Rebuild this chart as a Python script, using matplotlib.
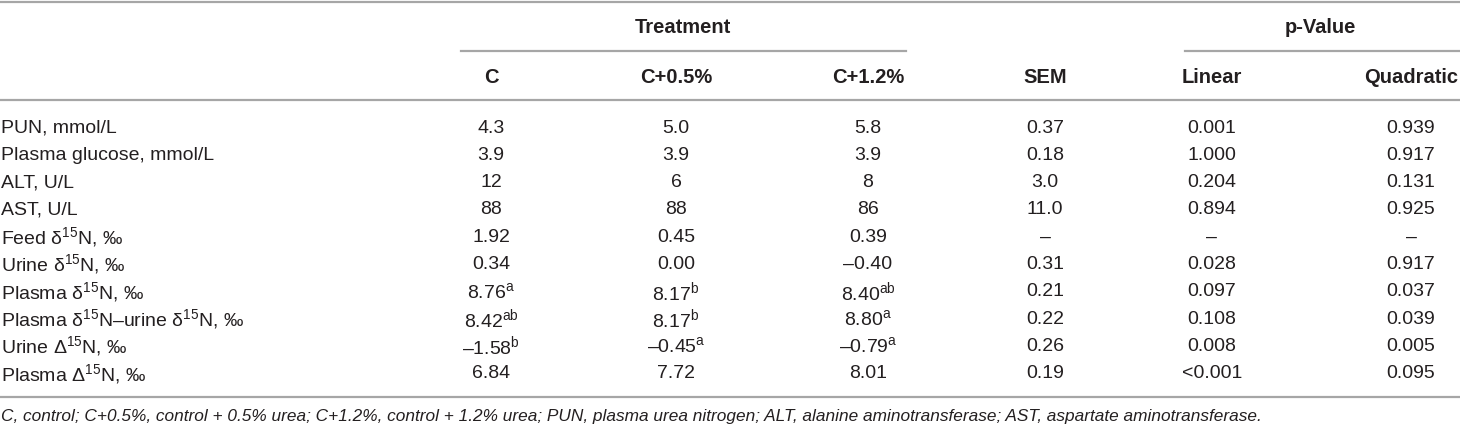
import matplotlib.pyplot as plt

plt.rcParams['font.family'] = ['Liberation Sans', 'DejaVu Sans']
plt.rcParams['mathtext.fontset'] = 'custom'
plt.rcParams['mathtext.rm'] = 'Liberation Sans'
plt.rcParams['mathtext.it'] = 'Liberation Sans:italic'
plt.rcParams['mathtext.bf'] = 'Liberation Sans:bold'

# table content
columns = ['C', 'C+0.5%', 'C+1.2%', 'SEM', 'Linear', 'Quadratic']
row_labels = ['PUN, mmol/L', 'Plasma glucose, mmol/L', 'ALT, U/L', 'AST, U/L',
              'Feed δ$^{15}$N, ‰', 'Urine δ$^{15}$N, ‰', 'Plasma δ$^{15}$N, ‰',
              'Plasma δ$^{15}$N–urine δ$^{15}$N, ‰', 'Urine Δ$^{15}$N, ‰',
              'Plasma Δ$^{15}$N, ‰']
col_c = ['4.3', '3.9', '12', '88', '1.92', '0.34', r'8.76$^{\mathrm{a}}$',
         r'8.42$^{\mathrm{ab}}$', r'–1.58$^{\mathrm{b}}$', '6.84']
col_c05 = ['5.0', '3.9', '6', '88', '0.45', '0.00', r'8.17$^{\mathrm{b}}$',
           r'8.17$^{\mathrm{b}}$', r'–0.45$^{\mathrm{a}}$', '7.72']
col_c12 = ['5.8', '3.9', '8', '86', '0.39', '–0.40', r'8.40$^{\mathrm{ab}}$',
           r'8.80$^{\mathrm{a}}$', r'–0.79$^{\mathrm{a}}$', '8.01']
sem = ['0.37', '0.18', '3.0', '11.0', '–', '0.31', '0.21', '0.22', '0.26', '0.19']
p_linear = ['0.001', '1.000', '0.204', '0.894', '–', '0.028', '0.097', '0.108',
            '0.008', '<0.001']
p_quad = ['0.939', '0.917', '0.131', '0.925', '–', '0.917', '0.037', '0.039',
          '0.005', '0.095']
footnote = ('C, control; C+0.5%, control + 0.5% urea; C+1.2%, control + 1.2% urea; '
            'PUN, plasma urea nitrogen; ALT, alanine aminotransferase; '
            'AST, aspartate aminotransferase.')

W, H = 1460, 428
fig = plt.figure(figsize=(W / 100, H / 100), dpi=100)
ax = fig.add_axes([0, 0, 1, 1])
ax.set_xlim(0, W)
ax.set_ylim(H, 0)
ax.axis('off')

txt = '#231f20'
line_col = '#a6a6a6'
fs = 14
fs_head = 14.5

col_x = [491, 676, 868, 1045, 1212, 1411]
data = [col_c, col_c05, col_c12, sem, p_linear, p_quad]

# rules
ax.plot([0, W], [2, 2], color=line_col, lw=1.6)
ax.plot([461, 906], [51, 51], color=line_col, lw=1.6)
ax.plot([1185, W], [51, 51], color=line_col, lw=1.6)
ax.plot([0, W], [100, 100], color=line_col, lw=1.6)
ax.plot([0, W], [397, 397], color=line_col, lw=1.6)

# headers
ax.text(683, 27, 'Treatment', ha='center', va='center', fontsize=fs_head,
        fontweight='bold', color=txt)
ax.text(1320, 27, 'p-Value', ha='center', va='center', fontsize=fs_head,
        fontweight='bold', color=txt)
for x, name in zip(col_x, columns):
    ax.text(x, 77, name, ha='center', va='center', fontsize=fs_head,
            fontweight='bold', color=txt)

# body
y0, dy = 128, 27.3
for i, label in enumerate(row_labels):
    y = y0 + i * dy
    ax.text(1, y, label, ha='left', va='center', fontsize=fs, color=txt)
    for x, col in zip(col_x, data):
        ax.text(x, y, col[i], ha='center', va='center', fontsize=fs, color=txt)

ax.text(1, 417, footnote, ha='left', va='center', fontsize=12.4,
        style='italic', color=txt)

fig.savefig('out.png', dpi=100)
